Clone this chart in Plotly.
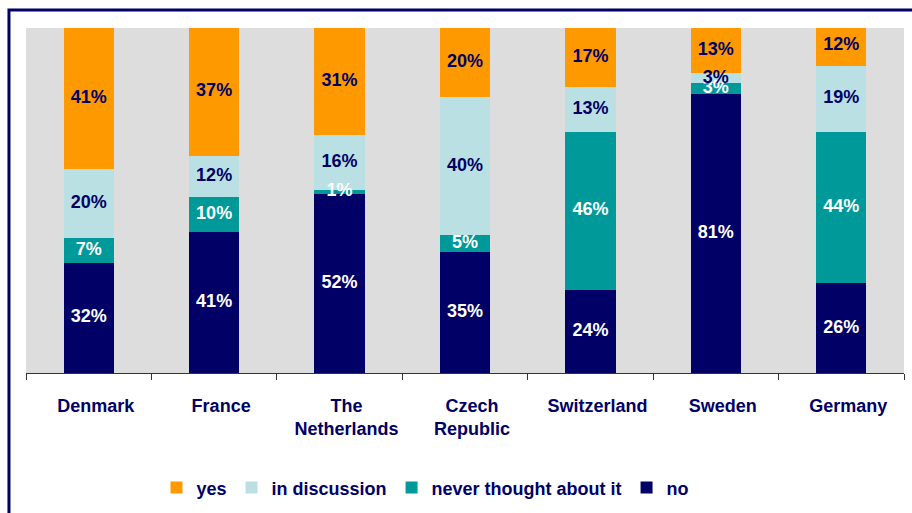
import plotly.graph_objects as go

# Survey results per country (percent of respondents)
countries = ["Denmark", "France", "The<br>Netherlands", "Czech<br>Republic",
             "Switzerland", "Sweden", "Germany"]
no_vals = [32, 41, 52, 35, 24, 81, 26]
never_vals = [7, 10, 1, 5, 46, 3, 44]
discussion_vals = [20, 12, 16, 40, 13, 3, 19]
yes_vals = [41, 37, 31, 20, 17, 13, 12]

NAVY = "#000066"
FONT = "Liberation Sans, Arial, sans-serif"

series = [
    ("no", no_vals, NAVY, "white"),
    ("never thought about it", never_vals, "#009999", "white"),
    ("in discussion", discussion_vals, "#BBE0E3", NAVY),
    ("yes", yes_vals, "#FF9900", NAVY),
]

fig = go.Figure()

# Stacked bars
for name, vals, color, _ in series:
    fig.add_trace(go.Bar(
        x=countries, y=vals, name=name,
        marker=dict(color=color, line=dict(width=0)),
        width=0.4,
        hoverinfo="name+y",
    ))

# Value labels centred in each segment, drawn above all bars
base = [0] * len(countries)
for name, vals, _, txtcolor in series:
    mids = [b + v / 2 for b, v in zip(base, vals)]
    fig.add_trace(go.Scatter(
        x=countries, y=mids, mode="text",
        text=[f"{v}%" for v in vals],
        textposition="middle center",
        textfont=dict(family=FONT, size=18, color=txtcolor, weight="bold"),
        showlegend=False, hoverinfo="skip", cliponaxis=False,
    ))
    base = [b + v for b, v in zip(base, vals)]

fig.update_layout(
    barmode="stack",
    width=912, height=513,
    margin=dict(l=26, r=8, t=28, b=139),
    paper_bgcolor="white",
    plot_bgcolor="#DDDDDD",
    showlegend=True,
    legend=dict(
        orientation="h", traceorder="reversed",
        x=0.455, xanchor="center", y=-0.329, yanchor="middle",
        font=dict(family=FONT, size=18, color=NAVY, weight="bold"),
        itemwidth=30,
        bgcolor="rgba(0,0,0,0)",
    ),
    xaxis=dict(
        showgrid=False, showline=True, linecolor="#333333", linewidth=1,
        ticks="outside", tickson="boundaries", ticklen=6, tickcolor="#333333",
        tickfont=dict(family=FONT, size=18, color=NAVY, weight="bold"),
        ticklabelstandoff=16, ticklabelshift=7,
    ),
    yaxis=dict(range=[0, 100], visible=False, showgrid=False),
)

# Navy frame around the chart
fig.add_shape(
    type="path", xref="paper", yref="paper",
    path="M -0.0194,-0.45 L -0.0194,1.052 L 1.05,1.052",
    line=dict(color=NAVY, width=3),
)

fig.write_html("out.html")
